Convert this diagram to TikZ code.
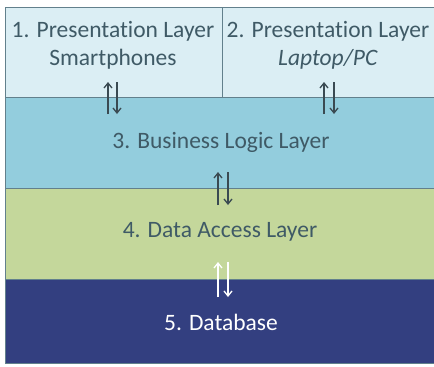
\documentclass[tikz,border=0pt]{standalone}
\usepackage{fontspec}
\setmainfont{Carlito}[Ligatures={NoCommon}]
\usetikzlibrary{arrows.meta}
\definecolor{topfill}{HTML}{DBEEF4}
\definecolor{bizfill}{HTML}{93CDDD}
\definecolor{datafill}{HTML}{C4D79B}
\definecolor{dbfill}{HTML}{333F80}
\definecolor{txt}{HTML}{3F5A66}
\definecolor{edge}{HTML}{62808C}
\definecolor{arr}{HTML}{3A4A52}
\begin{document}
\begin{tikzpicture}[x=1pt,y=-1pt,
  layer/.style={draw=edge,line width=0.8pt},
  lbl/.style={text=txt,font=\fontsize{23.5}{28}\selectfont,align=center,inner sep=0pt},
  updown/.style={-{Straight Barb[length=5pt,width=8pt]},line width=1.3pt,draw=arr}]
\useasboundingbox (0,0) rectangle (434,367);
% boxes
\path[layer,fill=topfill] (5,7) rectangle (222,97);
\path[layer,fill=topfill] (222,7) rectangle (440,97);
\path[layer,fill=bizfill] (5,97) rectangle (440,188);
\path[layer,fill=datafill] (5,188) rectangle (440,279);
\path[fill=dbfill,draw=edge,line width=0.8pt] (5,279) rectangle (440,363);
% labels
\node[lbl] (p1) at (113,45) {1. Presentation Layer\\Smartphones};
\node[lbl] (p2) at (328,45) {2. Presentation Layer\\\textit{Laptop/PC}};
\node[lbl] (biz) at (221,142) {3. Business Logic Layer};
\node[lbl] (dal) at (220,232) {4. Data Access Layer};
\node[lbl,text=white] (db) at (221,322) {5. Database};
% arrow end points
\coordinate (a1t) at (108,82); \coordinate (a1b) at (108,114);
\coordinate (b1t) at (117,82); \coordinate (b1b) at (117,114);
\coordinate (a2t) at (324,82); \coordinate (a2b) at (324,114);
\coordinate (b2t) at (334,82); \coordinate (b2b) at (334,114);
\coordinate (a3t) at (218,172); \coordinate (a3b) at (218,205);
\coordinate (b3t) at (228,172); \coordinate (b3b) at (228,205);
\coordinate (a4t) at (218,262); \coordinate (a4b) at (218,297);
\coordinate (b4t) at (228,262); \coordinate (b4b) at (228,297);
\draw[updown] (a1b) -- (a1t);
\draw[updown] (b1t) -- (b1b);
\draw[updown] (a2b) -- (a2t);
\draw[updown] (b2t) -- (b2b);
\draw[updown] (a3b) -- (a3t);
\draw[updown] (b3t) -- (b3b);
\draw[updown,draw=white] (a4b) -- (a4t);
\draw[updown,draw=white] (b4t) -- (b4b);
\end{tikzpicture}
\end{document}
